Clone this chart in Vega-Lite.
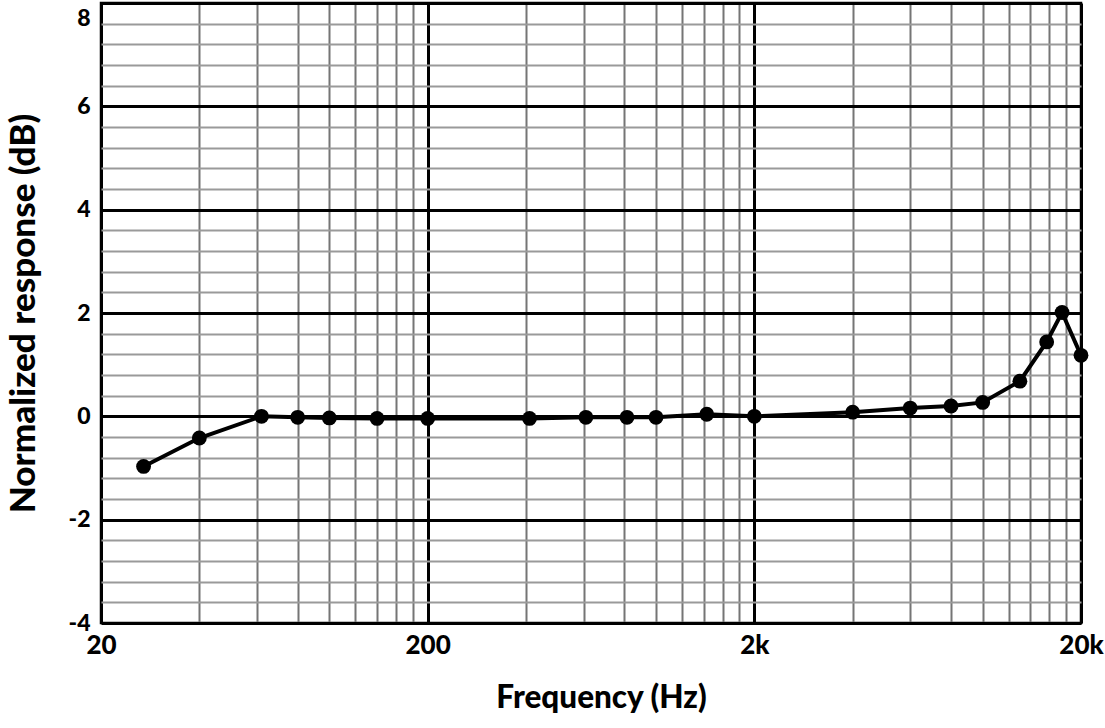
{
  "$schema": "https://vega.github.io/schema/vega-lite/v6.json",
  "width": 980,
  "height": 620,
  "autosize": {"type": "none"},
  "padding": {"left": 101, "top": 3, "right": 24, "bottom": 105},
  "background": "white",
  "config": {
    "view": {"stroke": "black", "strokeWidth": 2.5},
    "font": "Lato",
    "axis": {"labelFont": "Lato", "titleFont": "Lato", "labelFontWeight": 900, "titleFontWeight": 900, "labelColor": "black", "titleColor": "black"}
  },
  "data": {
    "values": [
      {"freq": 27, "db": -0.97},
      {"freq": 40, "db": -0.42},
      {"freq": 62, "db": 0.0},
      {"freq": 80, "db": -0.02},
      {"freq": 100, "db": -0.03},
      {"freq": 140, "db": -0.04},
      {"freq": 200, "db": -0.04},
      {"freq": 410, "db": -0.04},
      {"freq": 610, "db": -0.02},
      {"freq": 815, "db": -0.02},
      {"freq": 1000, "db": -0.02},
      {"freq": 1430, "db": 0.04},
      {"freq": 2000, "db": 0.0},
      {"freq": 4000, "db": 0.08},
      {"freq": 6000, "db": 0.16},
      {"freq": 8000, "db": 0.2},
      {"freq": 10000, "db": 0.27},
      {"freq": 13000, "db": 0.68},
      {"freq": 15700, "db": 1.44},
      {"freq": 17500, "db": 2.01},
      {"freq": 20000, "db": 1.18}
    ]
  },
  "layer": [
    {
      "mark": {"type": "line", "color": "black", "strokeWidth": 4},
      "encoding": {
        "x": {
          "field": "freq", "type": "quantitative",
          "scale": {"type": "log", "domain": [20, 20000], "nice": false},
          "axis": {
            "title": "Frequency (Hz)",
            "titleFontSize": 31.5,
            "titlePadding": 24,
            "titleX": 500,
            "values": [20,40,60,80,100,120,140,160,180,200,400,600,800,1000,1200,1400,1600,1800,2000,4000,6000,8000,10000,12000,14000,16000,18000,20000],
            "labelExpr": "datum.value == 20 ? '20' : datum.value == 200 ? '200' : datum.value == 2000 ? '2k' : datum.value == 20000 ? '20k' : ''",
            "labelFontSize": 26,
            "labelPadding": 9,
            "labelFlush": false,
            "labelOverlap": false,
            "ticks": false,
            "domain": false,
            "grid": true,
            "gridColor": {"condition": {"test": "abs(log(datum.value/2)/LN10 - round(log(datum.value/2)/LN10)) < 0.001", "value": "black"}, "value": "#757575"},
            "gridWidth": {"condition": {"test": "abs(log(datum.value/2)/LN10 - round(log(datum.value/2)/LN10)) < 0.001", "value": 3}, "value": 2},
            "gridOpacity": 1
          }
        },
        "y": {
          "field": "db", "type": "quantitative",
          "scale": {"domain": [-4, 8], "nice": false, "zero": false},
          "axis": {
            "title": "Normalized response (dB)",
            "titleFontSize": 35,
            "titlePadding": 27,
            "values": [-4,-3.6,-3.2,-2.8,-2.4,-2,-1.6,-1.2,-0.8,-0.4,0,0.4,0.8,1.2,1.6,2,2.4,2.8,3.2,3.6,4,4.4,4.8,5.2,5.6,6,6.4,6.8,7.2,7.6,8],
            "labelExpr": "abs(datum.value - round(datum.value/2)*2) < 0.01 && datum.value < 7 ? '' + round(datum.value) : ''",
            "labelFontSize": 23,
            "labelPadding": 11,
            "labelFlush": false,
            "labelOverlap": false,
            "ticks": false,
            "domain": false,
            "grid": true,
            "gridColor": {"condition": {"test": "abs(datum.value - round(datum.value/2)*2) < 0.01", "value": "black"}, "value": "#9a9a9a"},
            "gridWidth": {"condition": {"test": "abs(datum.value - round(datum.value/2)*2) < 0.01", "value": 3}, "value": 2},
            "gridOpacity": 1
          }
        }
      }
    },
    {
      "mark": {"type": "point", "filled": true, "color": "black", "opacity": 1, "size": 220},
      "encoding": {
        "x": {"field": "freq", "type": "quantitative"},
        "y": {
          "field": "db", "type": "quantitative",
          "axis": {
            "orient": "left",
            "title": null,
            "values": [8],
            "labelFontSize": 23,
            "labelPadding": 11,
            "labelFlush": true,
            "labelFlushOffset": -4,
            "ticks": false,
            "domain": false,
            "grid": false
          }
        }
      }
    }
  ],
  "resolve": {"axis": {"y": "independent"}}
}
